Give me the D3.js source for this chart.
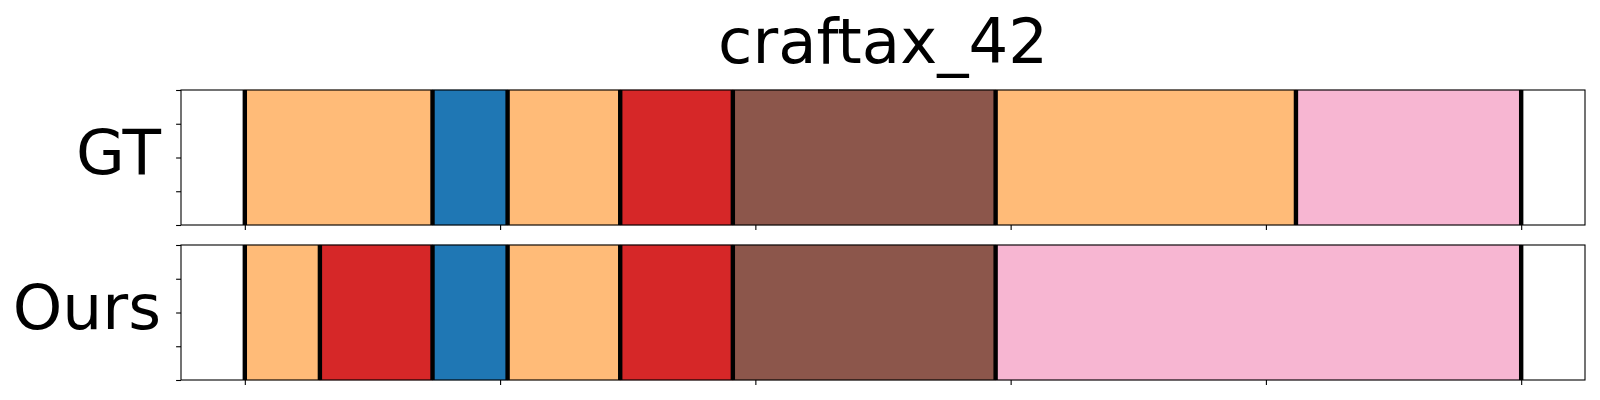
<!DOCTYPE html>
<html><head><meta charset="utf-8">
<script src="https://cdn.jsdelivr.net/npm/d3@7"></script>
<style>body{margin:0;background:#fff}svg{display:block}text{font-family:"DejaVu Sans",sans-serif}</style>
</head><body>
<script>
const title = "craftax_42";
const rowLabels = ["GT", "Ours"];
// segment lengths (frames) and colours per row
const gtDurations = [25, 10, 15, 15, 35, 40, 30];
const gtColors = ["#ffbb78", "#1f77b4", "#ffbb78", "#d62728", "#8c564b", "#ffbb78", "#f7b6d2"];
const oursDurations = [10, 15, 10, 15, 15, 35, 70];
const oursColors = ["#ffbb78", "#d62728", "#1f77b4", "#ffbb78", "#d62728", "#8c564b", "#f7b6d2"];
const totalFrames = 170;
const xTicks = [0, 34, 68, 102, 136, 170];
const yTicks = [0, 0.25, 0.5, 0.75, 1];

const W = 1600, H = 400;
const svg = d3.select("body").append("svg").attr("width", W).attr("height", H);
const left = 181, right = 1585;
const pad = totalFrames * 0.05;
const x = d3.scaleLinear().domain([-pad, totalFrames + pad]).range([left, right]);
const panels = [
  {label: rowLabels[0], dur: gtDurations, col: gtColors, top: 90, bottom: 225},
  {label: rowLabels[1], dur: oursDurations, col: oursColors, top: 245, bottom: 380}
];

svg.append("text").attr("x", (left + right) / 2).attr("y", 63)
  .attr("text-anchor", "middle").attr("font-size", 62.5).attr("fill", "#000").text(title);

panels.forEach(p => {
  const y = d3.scaleLinear().domain([0, 1]).range([p.bottom, p.top]);
  const g = svg.append("g");
  let acc = 0;
  const segs = p.dur.map((d, i) => { const s = {start: acc, end: acc + d, color: p.col[i]}; acc += d; return s; });
  g.selectAll("rect.seg").data(segs).enter().append("rect").attr("class", "seg")
    .attr("x", d => x(d.start)).attr("width", d => x(d.end) - x(d.start))
    .attr("y", y(1)).attr("height", y(0) - y(1))
    .attr("fill", d => d.color).attr("stroke", d => d3.color(d.color).darker(0.6)).attr("stroke-opacity", 0.4).attr("stroke-width", 1);
  const bounds = [0].concat(segs.map(s => s.end));
  g.selectAll("line.b").data(bounds).enter().append("line").attr("class", "b")
    .attr("x1", d => x(d)).attr("x2", d => x(d)).attr("y1", y(0)).attr("y2", y(1))
    .attr("stroke", "#000").attr("stroke-width", 4.4);
  // axes
  const xa = d3.axisBottom(x).tickValues(xTicks).tickFormat("").tickSizeInner(4.9).tickSizeOuter(0);
  const ya = d3.axisLeft(y).tickValues(yTicks).tickFormat("").tickSizeInner(4.9).tickSizeOuter(0);
  const gx = svg.append("g").attr("transform", `translate(0,${p.bottom})`).call(xa);
  const gy = svg.append("g").attr("transform", `translate(${left},0)`).call(ya);
  [gx, gy].forEach(a => { a.select(".domain").remove(); a.selectAll("line").attr("stroke", "#000").attr("stroke-width", 1.1); });
  svg.append("rect").attr("x", left).attr("y", p.top).attr("width", right - left).attr("height", p.bottom - p.top)
    .attr("fill", "none").attr("stroke", "#000").attr("stroke-width", 1.1);
  svg.append("text").attr("x", 161).attr("y", p.top + 84)
    .attr("text-anchor", "end").attr("font-size", 63).attr("fill", "#000").text(p.label);
});
</script>
</body></html>
